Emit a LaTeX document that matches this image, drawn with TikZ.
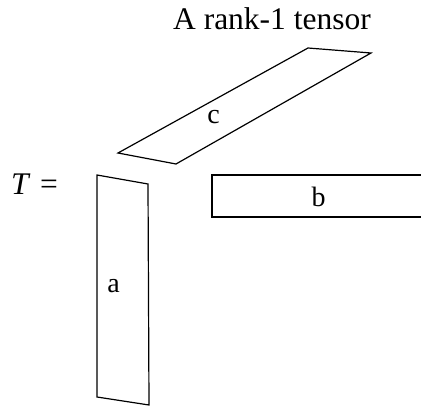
\documentclass[tikz,border=0pt]{standalone}
\usepackage{fontspec}
\setmainfont{Liberation Serif}
\usepackage{tikz}
\usetikzlibrary{positioning,calc}

\begin{document}
\begin{tikzpicture}[x=1pt,y=-1pt,
    factor/.style={line width=1.2pt, line join=miter},
    lbl/.style={font=\fontsize{28}{30}\selectfont, anchor=base, inner sep=0pt}]
    \useasboundingbox (0,0) rectangle (421,406);
    \clip (0,0) rectangle (421,406);
    % title
    \node[lbl, font=\fontsize{31.5}{33}\selectfont] (title) at (272,30) {A rank-1 tensor};
    \node[lbl, font=\fontsize{31.5}{33}\selectfont, anchor=base west] (lhs) at (11,195) {\textit{T}\hspace{0.3em}=};
    % factor c
    \coordinate (c1) at (118,153);
    \coordinate (c2) at (176,164);
    \coordinate (c3) at (371,53);
    \coordinate (c4) at (308,48);
    \draw[factor] (c1) -- (c2) -- (c3) -- (c4) -- cycle;
    \node[lbl] (c) at (213.5,124) {c};
    % factor b
    \coordinate (b1) at (212,175);
    \coordinate (b2) at (425,217);
    \draw[factor] (b1) rectangle (b2);
    \node[lbl] (b) at (318.5,207) {b};
    % factor a
    \coordinate (a1) at (97,175);
    \coordinate (a2) at (148,184);
    \coordinate (a3) at (149,405);
    \coordinate (a4) at (97,397);
    \draw[factor] (a1) -- (a2) -- (a3) -- (a4) -- cycle;
    \node[lbl] (a) at (113.5,293) {a};
\end{tikzpicture}
\end{document}
